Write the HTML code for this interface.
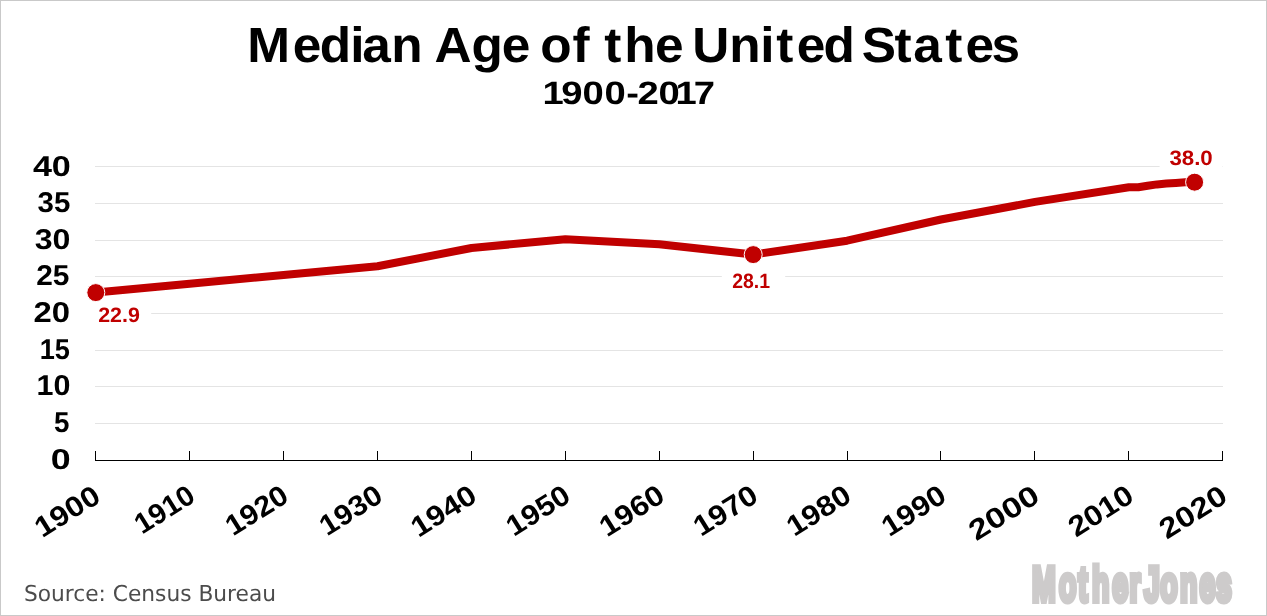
<!DOCTYPE html>
<html lang="en"><head><meta charset="utf-8"><title>Median Age of the United States</title>
<style>
html,body{margin:0;padding:0;background:#fff;}
body{width:1267px;height:616px;overflow:hidden;position:relative;}
svg{display:block;position:absolute;left:0;top:0;}
text{font-family:"Liberation Sans",sans-serif;font-weight:bold;fill:#000;text-rendering:geometricPrecision;}
text.src{font-family:"DejaVu Sans","Liberation Sans",sans-serif;font-weight:normal;fill:#4c4c4c;}
text.logo{fill:#cdcbcb;stroke:#cdcbcb;stroke-width:6px;stroke-linejoin:miter;stroke-miterlimit:2;}
text.lab{fill:#c00000;}
</style></head><body>
<svg width="1267" height="616" viewBox="0 0 1267 616">
<rect x="0.5" y="0.5" width="1266" height="615" fill="#fff" stroke="#c9c9c9" stroke-width="1"/>
<text transform="matrix(1.0350 0 0 1.0000 0 62.00)" font-size="49.60" x="238.85 282.81 308.87 338.43 349.90 377.94 423.12 419.73 455.49 484.75 527.21 522.01 553.19 584.59 583.93 603.13 632.76 675.23 668.86 704.51 734.62 750.01 769.72 795.73 840.91 832.58 864.22 882.46 913.30 932.91 958.00" y="0">Median Age of the United States</text>
<text transform="matrix(1.1800 0 0 1.0000 0 104.00)" font-size="32.40" x="459.72 475.71 493.55 512.28 530.67 540.24 558.00 572.56 588.00" y="0">1900-2017</text>
<g stroke="#e4e4e4" stroke-width="1" shape-rendering="crispEdges">
<line x1="95" y1="166.5" x2="1223" y2="166.5"/>
<line x1="95" y1="203.5" x2="1223" y2="203.5"/>
<line x1="95" y1="240.5" x2="1223" y2="240.5"/>
<line x1="95" y1="276.5" x2="1223" y2="276.5"/>
<line x1="95" y1="313.5" x2="1223" y2="313.5"/>
<line x1="95" y1="350.5" x2="1223" y2="350.5"/>
<line x1="95" y1="386.5" x2="1223" y2="386.5"/>
<line x1="95" y1="423.5" x2="1223" y2="423.5"/>
</g>
<g stroke="#000" stroke-width="1" shape-rendering="crispEdges">
<line x1="95" y1="460.5" x2="1223" y2="460.5"/>
<line x1="95.5" y1="451" x2="95.5" y2="461"/>
<line x1="189.5" y1="451" x2="189.5" y2="461"/>
<line x1="283.5" y1="451" x2="283.5" y2="461"/>
<line x1="377.5" y1="451" x2="377.5" y2="461"/>
<line x1="471.5" y1="451" x2="471.5" y2="461"/>
<line x1="565.5" y1="451" x2="565.5" y2="461"/>
<line x1="659.5" y1="451" x2="659.5" y2="461"/>
<line x1="753.5" y1="451" x2="753.5" y2="461"/>
<line x1="847.5" y1="451" x2="847.5" y2="461"/>
<line x1="940.5" y1="451" x2="940.5" y2="461"/>
<line x1="1034.5" y1="451" x2="1034.5" y2="461"/>
<line x1="1128.5" y1="451" x2="1128.5" y2="461"/>
<line x1="1222.5" y1="451" x2="1222.5" y2="461"/>
</g>
<g id="ylabels">
<text transform="matrix(1.1931 0 0 1 32.89 176.00)" font-size="28.60">40</text>
<text transform="matrix(1.0292 0 0 1 37.54 212.00)" font-size="28.60">35</text>
<text transform="matrix(1.1216 0 0 1 34.78 249.00)" font-size="28.60">30</text>
<text transform="matrix(1.0448 0 0 1 36.25 285.00)" font-size="28.60">25</text>
<text transform="matrix(1.1486 0 0 1 33.45 322.00)" font-size="28.60">20</text>
<text transform="matrix(0.9495 0 0 1 39.70 359.00)" font-size="28.60">15</text>
<text transform="matrix(1.0654 0 0 1 36.50 395.00)" font-size="28.60">10</text>
<text transform="matrix(0.9699 0 0 1 53.97 432.00)" font-size="28.60">5</text>
<text transform="matrix(1.2514 0 0 1 50.67 469.00)" font-size="28.60">0</text>
</g>
<g id="xlabels">
<text transform="translate(102.40 500.80) rotate(-32.0) scale(1.1129 1)" text-anchor="end" font-size="28.60">1900</text>
<text transform="translate(197.10 500.36) rotate(-32.0) scale(1.0195 1)" text-anchor="end" font-size="28.60">1910</text>
<text transform="translate(290.48 500.41) rotate(-32.0) scale(1.0670 1)" text-anchor="end" font-size="28.60">1920</text>
<text transform="translate(384.76 500.28) rotate(-32.0) scale(1.0717 1)" text-anchor="end" font-size="28.60">1930</text>
<text transform="translate(478.79 500.30) rotate(-32.0) scale(1.1167 1)" text-anchor="end" font-size="28.60">1940</text>
<text transform="translate(572.52 500.24) rotate(-32.0) scale(1.0872 1)" text-anchor="end" font-size="28.60">1950</text>
<text transform="translate(666.74 500.08) rotate(-32.0) scale(1.1066 1)" text-anchor="end" font-size="28.60">1960</text>
<text transform="translate(760.02 500.19) rotate(-32.0) scale(1.0951 1)" text-anchor="end" font-size="28.60">1970</text>
<text transform="translate(853.36 500.24) rotate(-32.0) scale(1.0938 1)" text-anchor="end" font-size="28.60">1980</text>
<text transform="translate(948.20 500.29) rotate(-32.0) scale(1.0944 1)" text-anchor="end" font-size="28.60">1990</text>
<text transform="translate(1041.62 500.57) rotate(-32.0) scale(1.2126 1)" text-anchor="end" font-size="28.60">2000</text>
<text transform="translate(1135.77 500.42) rotate(-32.0) scale(1.1092 1)" text-anchor="end" font-size="28.60">2010</text>
<text transform="translate(1229.32 500.77) rotate(-32.0) scale(1.1590 1)" text-anchor="end" font-size="28.60">2020</text>
</g>
<rect x="88.0" y="302.5" width="63.2" height="22.0" fill="#fff"/>
<rect x="721.8" y="265.5" width="63.4" height="22.0" fill="#fff"/>
<rect x="1159.6" y="155.5" width="63.0" height="22.0" fill="#fff"/>
<polyline points="95.8,292.6 189.7,283.8 283.6,275.0 377.5,266.3 471.5,248.0 565.4,239.2 659.3,244.3 753.2,254.6 847.1,240.7 941.0,219.5 1035.0,201.9 1128.9,187.3 1138.3,187.3 1147.6,185.8 1157.0,184.4 1166.4,183.6 1175.8,182.9 1185.2,182.2 1194.6,182.2" fill="none" stroke="#c00000" stroke-width="8" stroke-linejoin="round" stroke-linecap="round"/>
<circle cx="95.8" cy="292.6" r="9" fill="#c00000" stroke="#fff" stroke-width="1"/>
<circle cx="753.2" cy="254.6" r="9" fill="#c00000" stroke="#fff" stroke-width="1"/>
<circle cx="1194.6" cy="182.2" r="9" fill="#c00000" stroke="#fff" stroke-width="1"/>
<text class="lab" transform="matrix(1.0308 0 0 1 98.15 321.90)" font-size="20.80">22.9</text>
<text class="lab" transform="matrix(0.9347 0 0 1 732.22 288.00)" font-size="20.80">28.1</text>
<text class="lab" transform="matrix(1.0701 0 0 1 1169.40 164.70)" font-size="20.80">38.0</text>
<text class="src" transform="matrix(0.9877 0 0 1 23.89 600.90)" font-size="22.00">Source: Census Bureau</text>
<text class="logo" transform="matrix(0.5800 0 0 1.0000 0 600.90)" font-size="49.00" x="1779.52 1825.86 1859.10 1882.65 1917.51 1947.50 1981.27 1972.26 2000.60 2034.42 2068.29 2096.44" y="0">Mother Jones</text>
</svg></body></html>
